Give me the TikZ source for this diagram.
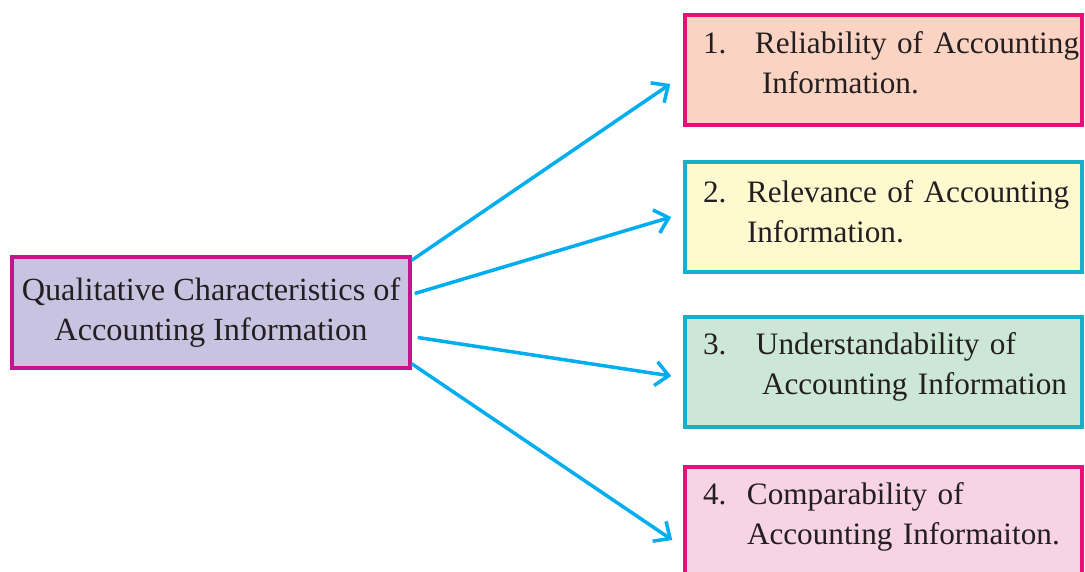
\documentclass[tikz,border=0pt]{standalone}
\usepackage{fontspec}
\setmainfont{Liberation Serif}
\usetikzlibrary{arrows.meta}

\definecolor{txtgray}{HTML}{231F20}
\definecolor{arrcyan}{HTML}{00AEEF}
\definecolor{qualborder}{HTML}{C4168C}
\definecolor{qualfill}{HTML}{C8C3E1}
\definecolor{pinkborder}{HTML}{EC0C7A}
\definecolor{tealborder}{HTML}{1AAFC9}
\definecolor{relfill}{HTML}{FBD3C2}
\definecolor{relevfill}{HTML}{FEF9CF}
\definecolor{underfill}{HTML}{CDE7D6}
\definecolor{compfill}{HTML}{F8D2E5}

\tikzset{
  charbox/.style={draw, line width=3.5pt, minimum width=397pt, minimum height=110pt,
    inner xsep=0pt, text width=397pt, align=left, text=txtgray,
    font=\fontsize{31.2}{40}\selectfont},
  arr/.style={line width=3.5pt, arrcyan, -{Straight Barb[length=13pt,width=24pt]}}
}

\begin{document}
\begin{tikzpicture}[x=1pt,y=-1pt]
 \useasboundingbox (0,0) rectangle (1085,572);

	% Boite principale
 \node[draw=qualborder, fill=qualfill, line width=3.5pt, minimum width=398pt, minimum height=111pt,
   align=center, text=txtgray, font=\fontsize{32.3}{40}\selectfont] (qual) at (211,312.5)
   {Qualitative Characteristics of\\Accounting Information};

	% Caracteristiques
 \node[charbox, draw=pinkborder, fill=relfill] (rel) at (883.5,70)
   {\mbox{\hspace*{18pt}\makebox[52pt][l]{1.}Reliability of Accounting}\\
    \mbox{\hspace*{77pt}Information.}\par\vspace{14pt}};
 \node[charbox, draw=tealborder, fill=relevfill] (relev) at (883.5,217)
   {\mbox{\hspace*{18pt}\makebox[44pt][l]{2.}Relevance of Accounting}\\
    \mbox{\hspace*{62pt}Information.}\par\vspace{10pt}};
 \node[charbox, draw=tealborder, fill=underfill] (under) at (883.5,372)
   {\mbox{\hspace*{18pt}\makebox[53pt][l]{3.}Understandability of}\\
    \mbox{\hspace*{77pt}Accounting Information}\par\vspace{10pt}};
 \node[charbox, draw=pinkborder, fill=compfill] (comp) at (883.5,522)
   {\mbox{\hspace*{18pt}\makebox[44pt][l]{4.}Comparability of}\\
    \mbox{\hspace*{62pt}Accounting Informaiton.}\par\vspace{10pt}};

	% Fleches
 \draw[arr] ([yshift=-5pt]qual.north east) -- ([xshift=-13pt,yshift=-14pt]rel.west);
 \draw[arr] ([xshift=3pt,yshift=19pt]qual.east) -- ([xshift=-12pt]relev.west);
 \draw[arr] ([xshift=6pt,yshift=-25pt]qual.east) -- ([xshift=-12pt,yshift=-4pt]under.west);
 \draw[arr] ([yshift=6pt]qual.south east) -- ([xshift=-11pt,yshift=-18pt]comp.west);

\end{tikzpicture}
\end{document}
